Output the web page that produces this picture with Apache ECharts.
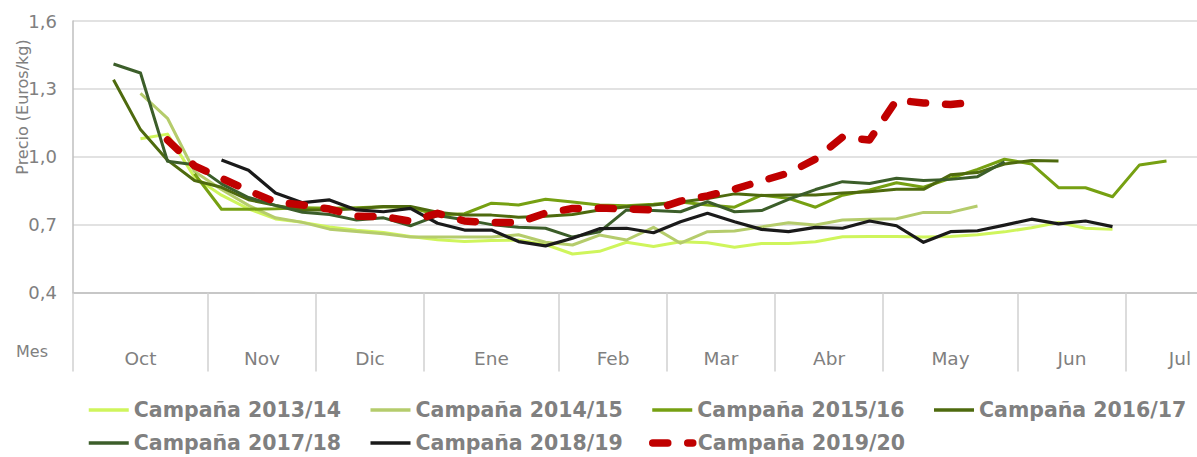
<!DOCTYPE html>
<html>
<head>
<meta charset="utf-8">
<script src="https://cdn.jsdelivr.net/npm/echarts@6/dist/echarts.min.js"></script>
<style>
html,body{margin:0;padding:0;background:#fff;}
#chart{width:1197px;height:457px;}
</style>
</head>
<body>
<div id="chart"></div>
<script>
// Months on the x axis and number of weekly points in each month
const months = ['Oct','Nov','Dic','Ene','Feb','Mar','Abr','May','Jun','Jul'];
const weeksPerMonth = [5,4,4,5,4,4,4,5,4,4];
const yTicks = [0.4, 0.7, 1.0, 1.3, 1.6];

// Weekly prices (Euros/kg), one value per week from the start of October
const c1314 = [null,null,1.08,1.10,0.91,0.83,0.77,0.725,0.71,0.69,0.675,0.665,0.648,0.633,0.625,0.63,0.632,0.612,0.57,0.582,0.622,0.603,0.624,0.62,0.60,0.617,0.617,0.624,0.646,0.647,0.647,0.645,0.647,0.655,0.668,0.686,0.709,0.684,0.679];
const c1415 = [null,null,1.28,1.17,0.935,0.855,0.785,0.73,0.71,0.68,0.67,0.66,0.645,0.645,0.645,0.645,0.655,0.622,0.61,0.654,0.632,0.688,0.618,0.669,0.672,0.69,0.708,0.698,0.72,0.724,0.726,0.754,0.754,0.782];
const c1516 = [null,null,null,null,0.925,0.768,0.768,0.77,0.775,0.772,0.775,0.779,0.775,0.743,0.748,0.795,0.787,0.812,0.80,0.787,0.783,0.79,0.80,0.787,0.777,0.83,0.816,0.777,0.83,0.853,0.885,0.865,0.905,0.944,0.989,0.968,0.863,0.863,0.823,0.964,0.981];
const c1617 = [null,1.34,1.12,0.985,0.895,0.865,0.81,0.785,0.765,0.765,0.77,0.78,0.78,0.755,0.742,0.742,0.733,0.737,0.745,0.765,0.779,0.787,0.80,0.815,0.836,0.829,0.831,0.831,0.84,0.845,0.856,0.856,0.92,0.93,0.968,0.983,0.981];
const c1718 = [null,1.41,1.37,0.98,0.965,0.88,0.82,0.785,0.755,0.745,0.72,0.73,0.695,0.74,0.722,0.70,0.688,0.684,0.645,0.668,0.765,0.762,0.757,0.801,0.757,0.762,0.812,0.855,0.89,0.882,0.905,0.895,0.90,0.912,0.978];
const c1819 = [null,null,null,null,null,0.986,0.94,0.84,0.797,0.809,0.765,0.757,0.772,0.706,0.676,0.676,0.625,0.606,0.64,0.682,0.684,0.664,0.713,0.75,0.713,0.679,0.669,0.688,0.684,0.716,0.695,0.622,0.669,0.673,0.698,0.724,0.703,0.716,0.691];
const c1920 = [null,null,null,1.074,0.96,0.905,0.85,0.80,0.787,0.769,0.737,0.736,0.715,0.75,0.716,0.709,0.709,0.751,0.771,0.773,0.769,0.765,0.804,0.827,0.857,0.893,0.928,0.99,1.087,1.074,1.25,1.238,1.231,1.242];

const seriesNames = ['Campaña 2013/14','Campaña 2014/15','Campaña 2015/16','Campaña 2016/17','Campaña 2017/18','Campaña 2018/19','Campaña 2019/20'];

// ---- build axes ----
const totalWeeks = weeksPerMonth.reduce((a,b)=>a+b,0);
const weekCats = [];
for (let i=0;i<totalWeeks;i++) weekCats.push('S'+(i+1));
// half-week positions for month labels / separators
const halfCats = new Array(totalWeeks*2+1).fill('');
const boundaries = new Set();
let start = 0;
months.forEach((m,idx)=>{
  boundaries.add(start*2);
  halfCats[start*2 + weeksPerMonth[idx]] = m;
  start += weeksPerMonth[idx];
});
boundaries.add(start*2);

const GRAY = '#808080';
const FONT = 'DejaVu Sans';
const colors = ['#CFF55C','#B5CC6C','#76A012','#4E6A0E','#3C5E2A','#1A1A1A','#C00000'];
const datas = [c1314,c1415,c1516,c1617,c1718,c1819,c1920];

const series = datas.map((d,i)=>{
  const isRed = i===6;
  return {
    name: seriesNames[i],
    type: 'line',
    xAxisIndex: 0,
    data: d,
    symbol: 'none',
    showSymbol: false,
    smooth: false,
    color: colors[i],
    lineStyle: isRed ? {width: 7.5, type: [15, 20], cap: 'round', join: 'round', color: colors[i]}
                     : {width: i===5 ? 3.2 : 3, color: colors[i], join: 'round'},
    z: 2 + i
  };
});

const legendCommon = {
  orient: 'horizontal',
  left: 82,
  width: 1400,
  itemWidth: 40,
  itemHeight: 14,
  itemGap: 22,
  itemStyle: {opacity: 0},
  lineStyle: {width: 3.5},
  textStyle: {color: GRAY, fontFamily: FONT, fontWeight: 'bold', fontSize: 20.5, width: 213, lineHeight: 24}
};

const chart = echarts.init(document.getElementById('chart'), null, {renderer: 'svg'});
chart.setOption({
  animation: false,
  backgroundColor: '#ffffff',
  grid: {left: 73, top: 21, width: 1161, height: 271.5, containLabel: false, outerBoundsMode: 'none'},
  legend: [
    Object.assign({}, legendCommon, {top: 393, data: seriesNames.slice(0,4)}),
    Object.assign({}, legendCommon, {top: 426, data: seriesNames.slice(4,6)}),
    Object.assign({}, legendCommon, {top: 426, left: 82 + 2*282 - 2, lineStyle: {width: 7.5}, data: seriesNames.slice(6)})
  ],
  xAxis: [
    {type: 'category', data: weekCats, boundaryGap: true, show: false},
    {type: 'category', data: halfCats, boundaryGap: false, position: 'bottom',
     axisLine: {show: true, lineStyle: {color: '#BFBFBF', width: 1.5}},
     axisTick: {show: true, length: 79, interval: (idx)=>boundaries.has(idx), lineStyle: {color: '#D0D0D0', width: 1.5}},
     axisLabel: {interval: 0, margin: 56, color: GRAY, fontFamily: FONT, fontSize: 18.5},
     splitLine: {show: false}}
  ],
  yAxis: {
    type: 'value', min: 0.4, max: 1.6, interval: 0.3,
    axisLine: {show: true, lineStyle: {color: '#BFBFBF', width: 1.5}},
    axisTick: {show: false},
    splitLine: {show: true, lineStyle: {color: '#D9D9D9', width: 1.5}},
    axisLabel: {margin: 16, color: GRAY, fontFamily: FONT, fontSize: 18,
      formatter: (v)=> v.toFixed(1).replace('.', ',')}
  },
  graphic: [
    {type: 'text', x: 22, y: 107, rotation: Math.PI/2,
     style: {text: 'Precio (Euros/kg)', fill: GRAY, font: '16px "DejaVu Sans"', align: 'center', verticalAlign: 'middle'}},
    {type: 'text', x: 16, y: 351,
     style: {text: 'Mes', fill: GRAY, font: '16px "DejaVu Sans"', align: 'left', verticalAlign: 'middle'}}
  ],
  series: series
});
</script>
</body>
</html>
